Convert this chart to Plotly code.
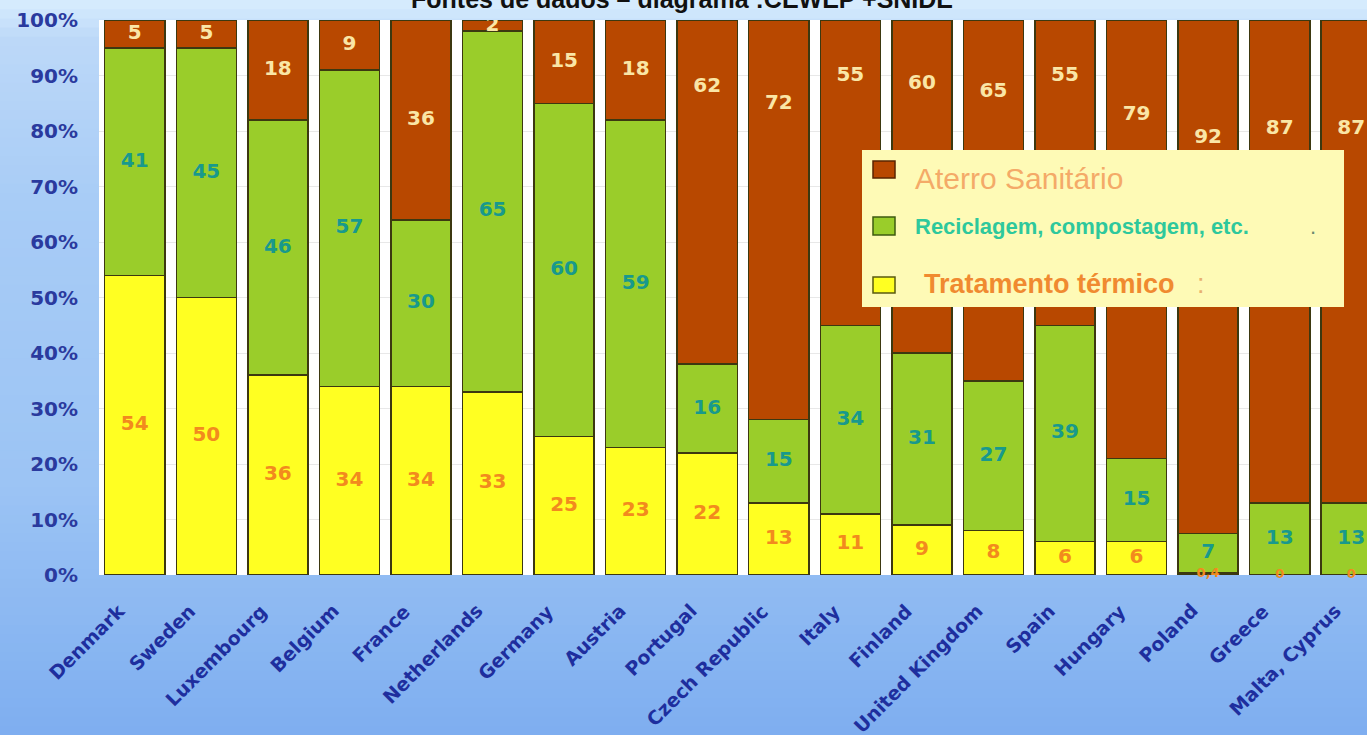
import plotly.graph_objects as go

# ---------------- data ----------------
countries = ["Denmark", "Sweden", "Luxembourg", "Belgium", "France", "Netherlands",
             "Germany", "Austria", "Portugal", "Czech Republic", "Italy", "Finland",
             "United Kingdom", "Spain", "Hungary", "Poland", "Greece", "Malta, Cyprus"]
thermal = [54, 50, 36, 34, 34, 33, 25, 23, 22, 13, 11, 9, 8, 6, 6, 0.4, 0, 0]
recycling = [41, 45, 46, 57, 30, 65, 60, 59, 16, 15, 34, 31, 27, 39, 15, 7, 13, 13]
landfill = [5, 5, 18, 9, 36, 2, 15, 18, 62, 72, 55, 60, 65, 55, 79, 92, 87, 87]
y_tick_values = [0, 10, 20, 30, 40, 50, 60, 70, 80, 90, 100]
y_tick_labels = ["0%", "10%", "20%", "30%", "40%", "50%", "60%", "70%", "80%", "90%", "100%"]
series_names = ["Aterro Sanitário", "Reciclagem, compostagem, etc.", "Tratamento térmico"]
title_text = "Fontes de dados – diagrama :CEWEP +SNIDE"

# ---------------- layout geometry / style ----------------
W, H = 1367, 735
ML, MR, MT, MB = 99, 0, 20, 160
PW, PH = W - ML - MR, H - MT - MB


def px_x(px):
    return (px - ML) / PW


def px_y(py):
    return (H - MB - py) / PH


BROWN = "#b84800"
GREEN = "#9acd2a"
YELLOW = "#ffff22"
EDGE = "#3c3810"
AXIS_BLUE = "#2a3a9e"
LABEL_BLUE = "#1e2e9e"


def fmt(v):
    return str(int(v)) if float(v).is_integer() else str(v).replace(".", ",")


totals = [t + r + l for t, r, l in zip(thermal, recycling, landfill)]


def pct(arr):
    return [100.0 * v / tot for v, tot in zip(arr, totals)]


th_p, rc_p, lf_p = pct(thermal), pct(recycling), pct(landfill)

# label positions derived from data (segment centres; tall landfill labels sit near top)
th_y = [t / 2 for t in th_p]
rc_y = [t + r / 2 for t, r in zip(th_p, rc_p)]
lf_y = [100 - (l / 2 if l <= 40 else max(10, 10 + 0.3 * (l - 55))) for l in lf_p]
th_size = [20 if v >= 1 else 13 for v in thermal]

fig = go.Figure()
bar_line = dict(color=EDGE, width=1.5)
fig.add_trace(go.Bar(x=countries, y=thermal, name=series_names[2],
                     marker=dict(color=YELLOW, line=bar_line), hoverinfo="skip"))
fig.add_trace(go.Bar(x=countries, y=recycling, name=series_names[1],
                     marker=dict(color=GREEN, line=bar_line), hoverinfo="skip"))
fig.add_trace(go.Bar(x=countries, y=landfill, name=series_names[0],
                     marker=dict(color=BROWN, line=bar_line), hoverinfo="skip"))

lab_font = dict(family="DejaVu Sans", size=20, weight="bold")
fig.add_trace(go.Scatter(x=countries, y=th_y, mode="text", text=[fmt(v) for v in thermal],
                         textfont=dict(family="DejaVu Sans", size=th_size, weight="bold",
                                       color="#f28a1e"), cliponaxis=False,
                         showlegend=False, hoverinfo="skip"))
fig.add_trace(go.Scatter(x=countries, y=rc_y, mode="text", text=[fmt(v) for v in recycling],
                         textfont=dict(lab_font, color="#18998c"), cliponaxis=True,
                         showlegend=False, hoverinfo="skip"))
fig.add_trace(go.Scatter(x=countries, y=lf_y, mode="text", text=[fmt(v) for v in landfill],
                         textfont=dict(lab_font, color="#fae6a6"), cliponaxis=True,
                         showlegend=False, hoverinfo="skip"))

# ---------- background gradient (paper) ----------
stops = [(0, (0xd8, 0xee, 0xfe)), (40, (0xbc, 0xd8, 0xf8)), (200, (0xa8, 0xcc, 0xf6)),
         (480, (0x9c, 0xc4, 0xf4)), (735, (0x7e, 0xae, 0xf0))]


def grad(py):
    for (p0, c0), (p1, c1) in zip(stops[:-1], stops[1:]):
        if p0 <= py <= p1:
            t = (py - p0) / (p1 - p0)
            return "rgb(%d,%d,%d)" % tuple(round(a + (b - a) * t) for a, b in zip(c0, c1))
    return "rgb(%d,%d,%d)" % stops[-1][1]


shapes = []
N = 80
step = H / N
for k in range(N):
    top = k * step
    bot = (k + 1) * step + 1
    shapes.append(dict(type="rect", xref="paper", yref="paper", layer="below",
                       x0=px_x(-5), x1=px_x(W + 5), y0=px_y(bot), y1=px_y(top),
                       fillcolor=grad(top + step / 2), line=dict(width=0)))
# white plot area
shapes.append(dict(type="rect", xref="paper", yref="paper", layer="below",
                   x0=0, x1=1, y0=0, y1=1, fillcolor="white", line=dict(width=0)))

# ---------- legend box ----------
shapes.append(dict(type="rect", xref="paper", yref="paper", layer="above",
                   x0=px_x(862), x1=px_x(1344), y0=px_y(307), y1=px_y(150),
                   fillcolor="#fefab6", line=dict(width=0)))
legend_items = [(BROWN, "#5a2400", 161, 178), (GREEN, "#3e5a10", 217, 235), (YELLOW, "#5a5a10", 277, 293)]
for fill, edge, t, b in legend_items:
    shapes.append(dict(type="rect", xref="paper", yref="paper", layer="above",
                       x0=px_x(873), x1=px_x(895), y0=px_y(b), y1=px_y(t),
                       fillcolor=fill, line=dict(color=edge, width=1.5)))

nb = "\u00a0"
annotations = [
    dict(x=px_x(913), y=px_y(178), xref="paper", yref="paper", xanchor="left", yanchor="middle",
         showarrow=False, text=series_names[0],
         font=dict(family="Liberation Sans", size=30, color="#f4aa68")),
    dict(x=px_x(913), y=px_y(226), xref="paper", yref="paper", xanchor="left", yanchor="middle",
         showarrow=False, text="<b>" + series_names[1] + "</b>" + nb * 10 + '<span style="color:#6a8a70">.</span>',
         font=dict(family="Liberation Sans", size=22, color="#2ec89c")),
    dict(x=px_x(922), y=px_y(284), xref="paper", yref="paper", xanchor="left", yanchor="middle",
         showarrow=False, text="<b>" + series_names[2] + "</b>" + nb * 3 + '<span style="color:#e8b070">:</span>',
         font=dict(family="Liberation Sans", size=27, color="#f08a30")),
    dict(x=px_x(682), y=px_y(-1), xref="paper", yref="paper", xanchor="center", yanchor="middle",
         showarrow=False, text="<b>" + title_text + "</b>",
         font=dict(family="Liberation Sans", size=25, color="#111111")),
]
for i, c in enumerate(countries):
    annotations.append(dict(x=i - 0.05, xref="x", y=px_y(597), yref="paper",
                            xanchor="right", yanchor="top", textangle=-45, showarrow=False,
                            text=c, font=dict(family="DejaVu Sans", size=19, color=LABEL_BLUE,
                                              weight="bold")))

fig.update_layout(
    width=W, height=H,
    margin=dict(l=ML, r=MR, t=MT, b=MB, pad=0),
    barmode="stack", barnorm="percent", bargap=0.16,
    paper_bgcolor="#a8ccf6", plot_bgcolor="white",
    showlegend=False,
    shapes=shapes, annotations=annotations,
    xaxis=dict(type="category", range=[-0.5, 17.22], showticklabels=False, showgrid=False,
               zeroline=False, showline=False, ticks=""),
    yaxis=dict(range=[0, 100], tickmode="array", tickvals=y_tick_values, ticktext=y_tick_labels,
               showgrid=True, gridcolor="#e8e8e8", gridwidth=1, zeroline=False, showline=False,
               ticks="", ticklabelstandoff=20,
               tickfont=dict(family="DejaVu Sans", size=20, color=AXIS_BLUE, weight="bold")),
)

fig.write_html("out.html", config={"displayModeBar": False},
               post_script="document.body.style.margin='0';document.body.style.overflow='hidden';")
